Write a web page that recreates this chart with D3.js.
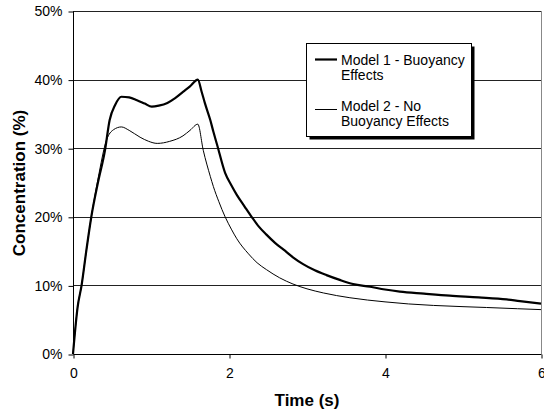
<!DOCTYPE html>
<html><head><meta charset="utf-8">
<script src="https://cdn.jsdelivr.net/npm/d3@7"></script>
<style>body{margin:0;background:#fff}svg{display:block}text{font-family:Arial,"Liberation Sans",sans-serif}</style>
</head><body>
<script>
const time1 = [0, 0.06, 0.11, 0.17, 0.235, 0.32, 0.41, 0.47, 0.54, 0.62, 0.72, 0.82, 0.92, 1.01, 1.1, 1.21, 1.31, 1.41, 1.5, 1.6, 1.65, 1.69, 1.76, 1.80, 1.85, 1.95, 2.03, 2.10, 2.20, 2.29, 2.38, 2.48, 2.59, 2.70, 2.82, 2.95, 3.1, 3.25, 3.42, 3.59, 3.81, 4.0, 4.19, 4.5, 4.83, 5.2, 5.56, 5.73, 6.0];
const model1 = [0, 6.9, 10, 15, 20, 25, 29.7, 34.1, 36.3, 37.5, 37.4, 37.0, 36.5, 36.05, 36.2, 36.6, 37.3, 38.2, 39.0, 40, 38.2, 36.6, 34.1, 32.4, 30.4, 26.4, 24.6, 23.2, 21.5, 20, 18.6, 17.4, 16.2, 15.2, 14.1, 13.1, 12.2, 11.5, 10.8, 10.2, 9.8, 9.4, 9.1, 8.8, 8.5, 8.25, 7.95, 7.7, 7.35];
const time2 = [0, 0.06, 0.11, 0.17, 0.235, 0.32, 0.43, 0.52, 0.62, 0.72, 0.86, 0.97, 1.08, 1.24, 1.41, 1.5, 1.6, 1.67, 1.76, 1.80, 1.87, 1.95, 2.03, 2.10, 2.25, 2.36, 2.48, 2.65, 2.82, 3.0, 3.21, 3.55, 4.0, 4.3, 4.62, 5.0, 5.3, 5.7, 6.0];
const model2 = [0, 6.9, 10, 15, 20, 25.5, 31.2, 32.7, 33.1, 32.6, 31.6, 31.0, 30.7, 31.0, 31.8, 32.6, 33.5, 29.7, 25.9, 24.4, 22.2, 20, 18.2, 16.8, 14.6, 13.3, 12.3, 11.1, 10.2, 9.5, 8.9, 8.2, 7.6, 7.3, 7.08, 6.9, 6.78, 6.6, 6.47];
const yTicks = [0, 10, 20, 30, 40, 50];
const xTicks = [0, 2, 4, 6];
const seriesNames = [["Model 1 - Buoyancy", "Effects"], ["Model 2 - No", "Buoyancy Effects"]];

const W = 544, H = 412;
const svg = d3.select("body").append("svg").attr("width", W).attr("height", H);
const x = d3.scaleLinear().domain([0, 6]).range([73, 541]);
const y = d3.scaleLinear().domain([0, 50]).range([354, 11]);

// gridlines
svg.append("g").selectAll("line").data(yTicks.filter(d => d > 0)).join("line")
  .attr("x1", x(0)).attr("x2", x(6))
  .attr("y1", d => Math.round(y(d)) + 0.5).attr("y2", d => Math.round(y(d)) + 0.5)
  .attr("stroke", "#222").attr("stroke-width", 1);
// right border
svg.append("line").attr("x1", x(6) + 0.5).attr("x2", x(6) + 0.5).attr("y1", y(50)).attr("y2", y(0))
  .attr("stroke", "#888");

// axes
const yAxis = d3.axisLeft(y).tickValues(yTicks).tickSize(5).tickPadding(6).tickFormat(d => d + "%");
const gy = svg.append("g").attr("transform", `translate(${x(0) + 0.5},0.5)`).call(yAxis);
gy.select(".domain").attr("stroke", "#000").attr("d", `M0,${y(50)}V${y(0)}`);
gy.selectAll("text").attr("font-size", 14).attr("fill", "#000").attr("font-family", "Arial, 'Liberation Sans', sans-serif");

const xAxis = d3.axisBottom(x).tickValues(xTicks).tickSize(4).tickPadding(10).tickFormat(d3.format("d"));
const gx = svg.append("g").attr("transform", `translate(0.5,${Math.round(y(0)) + 0.5})`).call(xAxis);
gx.select(".domain").attr("stroke", "#000").attr("d", `M${x(0)},0H${x(6)}`);
gx.selectAll("text").attr("font-size", 14).attr("fill", "#000").attr("font-family", "Arial, 'Liberation Sans', sans-serif");

// lines
const line = d3.line().x(d => x(d[0])).y(d => y(d[1])).curve(d3.curveMonotoneX);
svg.append("path").datum(time2.map((t, i) => [t, model2[i]]))
  .attr("d", line).attr("fill", "none").attr("stroke", "#000").attr("stroke-width", 1);
svg.append("path").datum(time1.map((t, i) => [t, model1[i]]))
  .attr("d", line).attr("fill", "none").attr("stroke", "#000").attr("stroke-width", 2.2).attr("stroke-linejoin", "round");

// axis titles
svg.append("text").attr("x", 307).attr("y", 406).attr("text-anchor", "middle")
  .attr("font-size", 17).attr("font-weight", "bold").text("Time (s)");
svg.append("text").attr("transform", "translate(25,183) rotate(-90)").attr("text-anchor", "middle")
  .attr("font-size", 17).attr("font-weight", "bold").text("Concentration (%)");

// legend
const lg = svg.append("g");
lg.append("rect").attr("x", 309.5).attr("y", 46.5).attr("width", 165).attr("height", 93).attr("fill", "#000");
lg.append("rect").attr("x", 306.5).attr("y", 43.5).attr("width", 165).attr("height", 93).attr("fill", "#fff").attr("stroke", "#000");
const rows = [{ly: 59.5, sw: 2.2, ty: 64.5}, {ly: 109.5, sw: 1, ty: 110.5}];
seriesNames.forEach((nm, i) => {
  const r = rows[i];
  lg.append("line").attr("x1", 315).attr("x2", 337).attr("y1", r.ly).attr("y2", r.ly)
    .attr("stroke", "#000").attr("stroke-width", r.sw);
  nm.forEach((s, j) => {
    lg.append("text").attr("x", 341).attr("y", r.ty + j * 15.5).attr("font-size", 14).text(s);
  });
});
</script>
</body></html>
